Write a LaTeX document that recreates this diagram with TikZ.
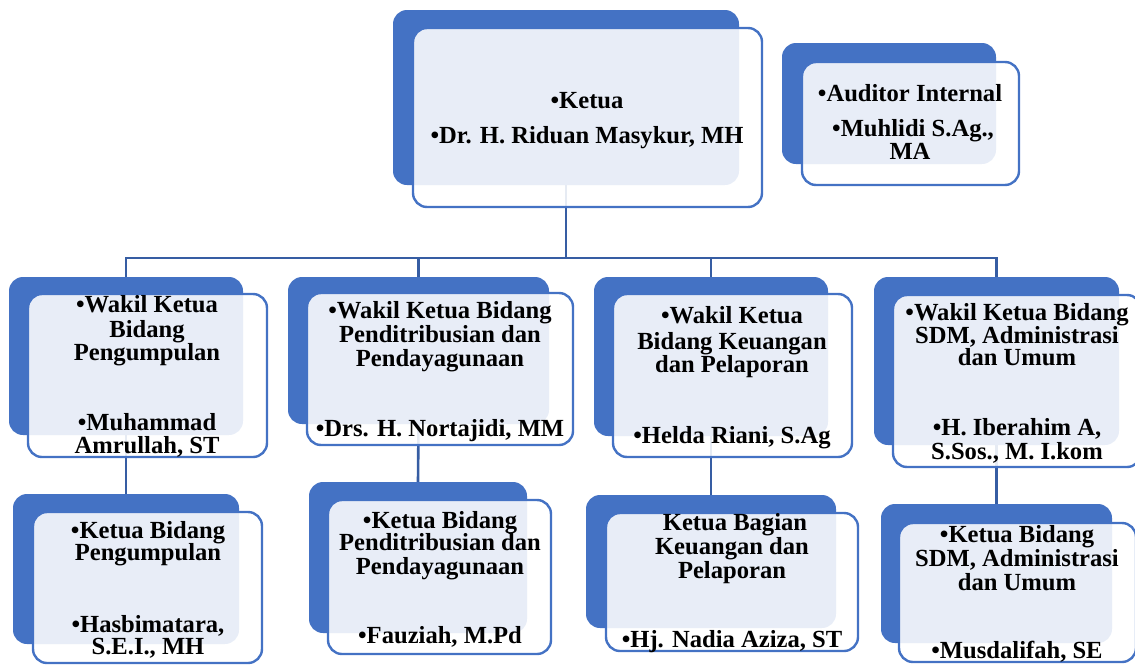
\documentclass[tikz,border=0pt]{standalone}
\usepackage{fontspec}
\setmainfont{Liberation Serif}
\pgfdeclarelayer{bg}
\pgfsetlayers{bg,main}
\definecolor{accent}{HTML}{4472C4}
\definecolor{linkc}{HTML}{365DA3}
\tikzset{
  back/.style={rectangle, rounded corners=14pt, fill=accent, draw=none, inner sep=0pt},
  front/.style={rectangle, rounded corners=14pt, fill=white, fill opacity=0.88, draw=accent, line width=2.4pt, inner sep=0pt},
  conn/.style={draw=linkc, line width=2.6pt},
  lbl/.style={anchor=base, inner sep=0pt, text=black, font=\bfseries\fontsize{24.6}{24.6}\selectfont}
}
\begin{document}
\begin{tikzpicture}[x=1pt,y=-1pt]
\useasboundingbox (0,0) rectangle (1135,664);
\clip (0,0) rectangle (1135,664);

% Ketua
\node[back, minimum width=346pt, minimum height=175pt] (kb) at (566,97.5) {};
\node[front, minimum width=349pt, minimum height=179pt] (kf) at (587.5,117.5) {};
% Auditor
\node[back, minimum width=214pt, minimum height=121pt] (ab) at (889,103.5) {};
\node[front, minimum width=217pt, minimum height=123pt] (af) at (910.5,123.5) {};
% Row 1
\node[back, minimum width=234pt, minimum height=158pt] (w1b) at (126,356) {};
\node[front, minimum width=239pt, minimum height=163pt] (w1f) at (147.5,375.5) {};
\node[back, minimum width=261pt, minimum height=147pt] (w2b) at (418.5,350.5) {};
\node[front, minimum width=266pt, minimum height=152pt] (w2f) at (440,369) {};
\node[back, minimum width=234pt, minimum height=159pt] (w3b) at (711,356.5) {};
\node[front, minimum width=239pt, minimum height=163pt] (w3f) at (732.5,375.5) {};
\node[back, minimum width=245pt, minimum height=168pt] (w4b) at (996.5,361) {};
\node[front, minimum width=248pt, minimum height=172pt] (w4f) at (1017,381) {};
% Row 2
\node[back, minimum width=226pt, minimum height=150pt] (k1b) at (126,569) {};
\node[front, minimum width=229pt, minimum height=151pt] (k1f) at (147.5,587.5) {};
\node[back, minimum width=218pt, minimum height=151pt] (k2b) at (418,557.5) {};
\node[front, minimum width=223pt, minimum height=154pt] (k2f) at (439.5,577) {};
\node[back, minimum width=250pt, minimum height=133pt] (k3b) at (711,561.5) {};
\node[front, minimum width=252pt, minimum height=138pt] (k3f) at (732,582) {};
\node[back, minimum width=231pt, minimum height=139pt] (k4b) at (996.5,573.5) {};
\node[front, minimum width=237pt, minimum height=139pt] (k4f) at (1017.5,592.5) {};

% connectors
\coordinate (bus) at (566,258);
\begin{pgfonlayer}{bg}
\draw[conn] (kb.south) -- (bus);
\draw[conn] (bus) -| (w1b.north);
\draw[conn] (bus) -| (w2b.north);
\draw[conn] (bus) -| (w3b.north);
\draw[conn] (bus) -| (w4b.north);
\draw[conn] (w1b.south) -- (k1b.north);
\draw[conn] (w2b.south) -- (k2b.north);
\draw[conn] (w3b.south) -- (k3b.north);
\draw[conn] (w4b.south) -- (k4b.north);
\end{pgfonlayer}

% texts
\node[lbl] (kt1) at (587,108) {•Ketua};
\node[lbl] (kt2) at (587,143) {•Dr. H. Riduan Masykur, MH};

\node[lbl] (at1) at (910,101) {•Auditor Internal};
\node[lbl] (at2) at (913,136) {•Muhlidi S.Ag.,};
\node[lbl] (at3) at (910,159) {MA};

\node[lbl] (w1t1) at (147,312) {•Wakil Ketua};
\node[lbl] (w1t2) at (147,337) {Bidang};
\node[lbl] (w1t3) at (147,360) {Pengumpulan};
\node[lbl] (w1t4) at (147,430) {•Muhammad};
\node[lbl] (w1t5) at (147,453) {Amrullah, ST};

\node[lbl] (w2t1) at (440,318) {•Wakil Ketua Bidang};
\node[lbl] (w2t2) at (440,342) {Penditribusian dan};
\node[lbl] (w2t3) at (440,366) {Pendayagunaan};
\node[lbl] (w2t4) at (440,436) {•Drs. H. Nortajidi, MM};

\node[lbl] (w3t1) at (732,323) {•Wakil Ketua};
\node[lbl] (w3t2) at (732,349) {Bidang Keuangan};
\node[lbl] (w3t3) at (732,372) {dan Pelaporan};
\node[lbl] (w3t4) at (732,443) {•Helda Riani, S.Ag};

\node[lbl] (w4t1) at (1017,320) {•Wakil Ketua Bidang};
\node[lbl] (w4t2) at (1017,343) {SDM, Administrasi};
\node[lbl] (w4t3) at (1017,365) {dan Umum};
\node[lbl] (w4t4) at (1017,435) {•H. Iberahim A,};
\node[lbl] (w4t5) at (1017,459) {S.Sos., M. I.kom};

\node[lbl] (k1t1) at (148,538) {•Ketua Bidang};
\node[lbl] (k1t2) at (148,560) {Pengumpulan};
\node[lbl] (k1t3) at (148,632) {•Hasbimatara,};
\node[lbl] (k1t4) at (148,654) {S.E.I., MH};

\node[lbl] (k2t1) at (440,528) {•Ketua Bidang};
\node[lbl] (k2t2) at (440,550) {Penditribusian dan};
\node[lbl] (k2t3) at (440,574) {Pendayagunaan};
\node[lbl] (k2t4) at (440,643) {•Fauziah, M.Pd};

\node[lbl] (k3t1) at (735,530) {Ketua Bagian};
\node[lbl] (k3t2) at (732,554) {Keuangan dan};
\node[lbl] (k3t3) at (732,578) {Pelaporan};
\node[lbl] (k3t4) at (732,647) {•Hj. Nadia Aziza, ST};

\node[lbl] (k4t1) at (1017,542) {•Ketua Bidang};
\node[lbl] (k4t2) at (1017,566) {SDM, Administrasi};
\node[lbl] (k4t3) at (1017,590) {dan Umum};
\node[lbl] (k4t4) at (1017,658) {•Musdalifah, SE};
\end{tikzpicture}
\end{document}
